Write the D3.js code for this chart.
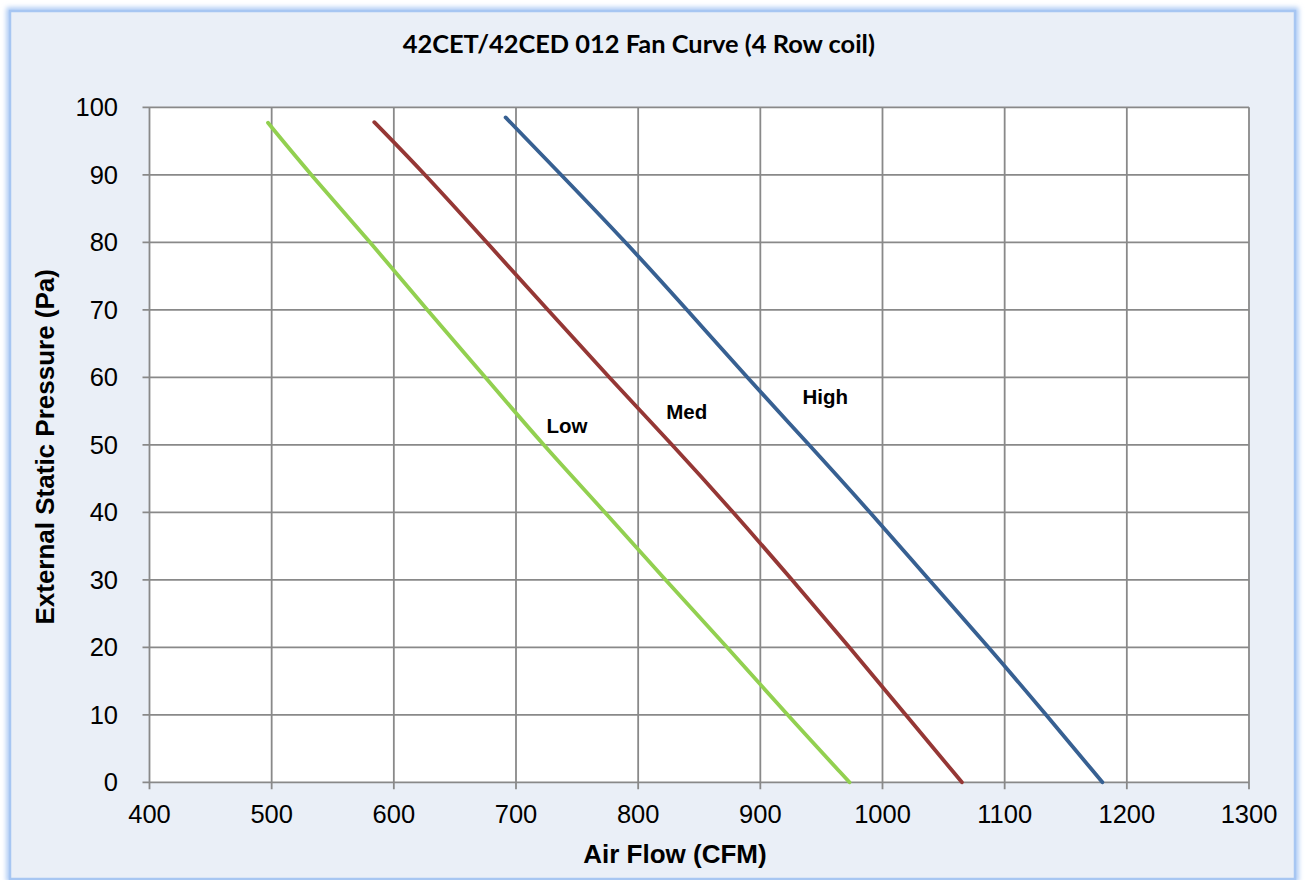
<!DOCTYPE html>
<html>
<head>
<meta charset="utf-8">
<script src="https://cdn.jsdelivr.net/npm/d3@7"></script>
<style>
  html, body { margin: 0; padding: 0; background: #ffffff; }
  svg { display: block; }
</style>
</head>
<body>
<svg id="chart" width="1306" height="880"></svg>
<script>
// ---- Data ----
const chartTitle = "42CET/42CED 012 Fan Curve (4 Row coil)";
const xAxisTitle = "Air Flow (CFM)";
const yAxisTitle = "External Static Pressure (Pa)";

const xTicks = [400, 500, 600, 700, 800, 900, 1000, 1100, 1200, 1300];
const yTicks = [0, 10, 20, 30, 40, 50, 60, 70, 80, 90, 100];

const seriesNames = ["Low", "Med", "High"];

const lowCFM  = [497, 532, 581, 627, 675, 722, 773, 822, 873, 922, 973];
const lowPa   = [97.7, 90, 80, 70, 60, 50, 40, 30, 20, 10, 0];

const medCFM  = [584, 626, 676, 726, 776, 828, 878, 926, 973, 1019, 1065];
const medPa   = [97.8, 90, 80, 70, 60, 50, 40, 30, 20, 10, 0];

const highCFM = [691.5, 737, 790, 840, 889, 940, 990, 1038, 1087, 1134, 1180];
const highPa  = [98.5, 90, 80, 70, 60, 50, 40, 30, 20, 10, 0];

// label anchor positions (data units) for the in-plot series labels
const labelCFM = [725, 823, 934.5];
const labelPa  = [51.7, 53.8, 56.1];

// ---- Layout ----
const svg = d3.select("#chart");
const plot = { left: 149.5, right: 1249, top: 107.3, bottom: 782.3 };

const x = d3.scaleLinear().domain([400, 1300]).range([plot.left, plot.right]);
const y = d3.scaleLinear().domain([0, 100]).range([plot.bottom, plot.top]);

const colors = ["#92D050", "#953735", "#376092"];
const gridColor = "#898989";

// ---- Frame with glow ----
const defs = svg.append("defs");
const f = defs.append("filter").attr("id", "glow")
  .attr("x", "-5%").attr("y", "-5%").attr("width", "110%").attr("height", "110%");
f.append("feGaussianBlur").attr("stdDeviation", 2.5);

svg.append("rect")
  .attr("x", 9.5).attr("y", 10.5).attr("width", 1286).attr("height", 868.5)
  .attr("fill", "none").attr("stroke", "#A8C8F4").attr("stroke-width", 6)
  .attr("filter", "url(#glow)");
svg.append("rect")
  .attr("x", 10).attr("y", 11).attr("width", 1285).attr("height", 868)
  .attr("fill", "#EAEFF7").attr("stroke", "#A7C6F2").attr("stroke-width", 2.5);

// ---- Plot area ----
svg.append("rect")
  .attr("x", plot.left).attr("y", plot.top)
  .attr("width", plot.right - plot.left).attr("height", plot.bottom - plot.top)
  .attr("fill", "#ffffff");

// gridlines
const g = svg.append("g");
g.selectAll("line.vg").data(xTicks).join("line")
  .attr("class", "vg")
  .attr("x1", d => x(d)).attr("x2", d => x(d))
  .attr("y1", plot.top).attr("y2", plot.bottom + 7)
  .attr("stroke", gridColor).attr("stroke-width", 1.8);
g.selectAll("line.hg").data(yTicks).join("line")
  .attr("class", "hg")
  .attr("x1", plot.left - 7).attr("x2", plot.right)
  .attr("y1", d => y(d)).attr("y2", d => y(d))
  .attr("stroke", gridColor).attr("stroke-width", 1.8);

// tick labels
const tickFont = "'Liberation Sans', Arial, sans-serif";
svg.append("g").selectAll("text").data(xTicks).join("text")
  .attr("x", d => x(d)).attr("y", 822.7)
  .attr("text-anchor", "middle")
  .attr("font-family", tickFont).attr("font-size", 25.5).attr("fill", "#000")
  .text(d => d);
svg.append("g").selectAll("text").data(yTicks).join("text")
  .attr("x", 118).attr("y", d => y(d))
  .attr("dy", "0.36em")
  .attr("text-anchor", "end")
  .attr("font-family", tickFont).attr("font-size", 25.5).attr("fill", "#000")
  .text(d => d);

// axis titles
svg.append("text")
  .attr("x", 675).attr("y", 863.3)
  .attr("text-anchor", "middle")
  .attr("font-family", tickFont).attr("font-weight", "bold").attr("font-size", 26)
  .text(xAxisTitle);
svg.append("text")
  .attr("transform", `translate(53.5, ${(plot.top + plot.bottom) / 2 + 2}) rotate(-90)`)
  .attr("text-anchor", "middle")
  .attr("font-family", tickFont).attr("font-weight", "bold").attr("font-size", 26)
  .text(yAxisTitle);

// chart title
svg.append("text")
  .attr("x", 638.8).attr("y", 52.7)
  .attr("text-anchor", "middle")
  .attr("font-family", "Lato, 'Open Sans', sans-serif").attr("font-weight", "bold")
  .attr("font-size", 25.4).attr("fill", "#000")
  .text(chartTitle);

// ---- Series ----
const series = [
  lowCFM.map((c, i) => [c, lowPa[i]]),
  medCFM.map((c, i) => [c, medPa[i]]),
  highCFM.map((c, i) => [c, highPa[i]])
];
const line = d3.line()
  .x(d => x(d[0])).y(d => y(d[1]))
  .curve(d3.curveBasis);

svg.append("g").selectAll("path").data(series).join("path")
  .attr("d", d => line(d))
  .attr("fill", "none")
  .attr("stroke", (d, i) => colors[i])
  .attr("stroke-width", 3.8)
  .attr("stroke-linecap", "round");

// series labels
svg.append("g").selectAll("text").data(seriesNames).join("text")
  .attr("x", (d, i) => x(labelCFM[i])).attr("y", (d, i) => y(labelPa[i]))
  .attr("font-family", tickFont).attr("font-weight", "bold").attr("font-size", 20.5)
  .attr("fill", "#000")
  .text(d => d);
</script>
</body>
</html>
